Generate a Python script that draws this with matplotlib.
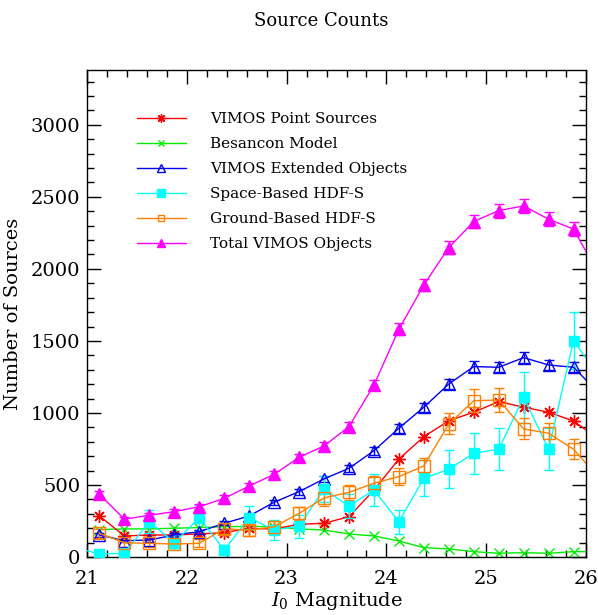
import matplotlib
matplotlib.use('Agg')
import matplotlib.pyplot as plt
from matplotlib.lines import Line2D
from matplotlib.ticker import MultipleLocator

plt.rcParams['font.family'] = ['DejaVu Serif']
plt.rcParams['mathtext.fontset'] = 'dejavuserif'

# magnitude bins (last one lies past the plot edge so the lines run off it)
mags = [21.125, 21.375, 21.625, 21.875, 22.125, 22.375, 22.625, 22.875, 23.125, 23.375,
        23.625, 23.875, 24.125, 24.375, 24.625, 24.875, 25.125, 25.375, 25.625, 25.875, 26.125]

point_src = [285, 146, 153, 153, 160, 169, 199, 194, 227, 234,
             280, 465, 680, 835, 946, 1005, 1079, 1040, 1005, 944, 820]

besancon = [190, 195, 195, 200, 204, 210, 213, 210, 195, 187,
            160, 146, 111, 65, 56, 37, 26, 30, 26, 37, 37]

extended = [153, 113, 118, 153, 176, 234, 285, 380, 454, 542,
            616, 738, 894, 1040, 1201, 1322, 1317, 1384, 1333, 1317, 1140]
extended_err = [12, 11, 11, 12, 13, 15, 17, 19, 21, 23,
                25, 27, 30, 32, 35, 36, 36, 37, 37, 36, 0]

# space-based counts start one bin earlier, off the left edge
space_mags = [20.875] + mags
space_hdf = [67, 21, 26, 245, 99, 273, 49, 273, 187, 215, 470,
             354, 465, 245, 546, 609, 720, 748, 1109, 748, 1502, 1258]
space_err = [0, 20, 20, 80, 52, 90, 32, 82, 72, 80, 89,
             85, 110, 83, 124, 133, 142, 145, 178, 145, 200, 0]

ground_hdf = [164, 99, 95, 90, 95, 195, 187, 210, 303, 410,
              449, 512, 558, 632, 924, 1085, 1090, 889, 859, 748, 554]
ground_err = [30, 28, 28, 28, 28, 35, 38, 43, 46, 55,
              52, 52, 58, 58, 73, 78, 81, 73, 72, 68, 0]

total = [435, 262, 290, 315, 349, 407, 493, 574, 692, 771,
         905, 1194, 1581, 1889, 2148, 2329, 2405, 2437, 2345, 2276, 1965]
total_err = [21, 16, 17, 18, 19, 20, 22, 24, 26, 28,
             30, 35, 40, 43, 46, 48, 49, 49, 48, 48, 0]

labels = ['VIMOS Point Sources', 'Besancon Model', 'VIMOS Extended Objects',
          'Space-Based HDF-S', 'Ground-Based HDF-S', 'Total VIMOS Objects']

fig = plt.figure(figsize=(5.98, 6.15), dpi=100)
ax = fig.add_axes([0.1455, 0.0943, 0.8345, 0.7917])

lw = 1.0
cap = 3.6
red, green, blue, cyan, orange, mag = 'red', '#00ee00', '#0000ee', 'cyan', '#ff8000', 'magenta'

ax.plot(mags, point_src, color=red, lw=lw, marker=(8, 2, 0), ms=9, mew=1.0, zorder=3)
ax.plot(mags, besancon, color=green, lw=lw, marker='x', ms=7, mew=1.0, zorder=2)
ax.errorbar(mags, extended, yerr=extended_err, color=blue, lw=lw, marker='^',
            mfc='none', ms=8, mew=1.0, capsize=cap, elinewidth=1.0, zorder=3)
ax.errorbar(space_mags, space_hdf, yerr=space_err, color=cyan, lw=lw, marker='s',
            ms=7, capsize=cap, elinewidth=1.0, zorder=3)
ax.errorbar(mags, ground_hdf, yerr=ground_err, color=orange, lw=lw, marker='s',
            mfc='none', ms=8, mew=1.0, capsize=cap, elinewidth=1.0, zorder=3)
ax.errorbar(mags, total, yerr=total_err, color=mag, lw=lw, marker='^',
            ms=9, capsize=cap, elinewidth=1.0, zorder=3)

# legend keys without error bars
handles = [
    Line2D([], [], color=red, lw=lw, marker=(8, 2, 0), ms=6),
    Line2D([], [], color=green, lw=lw, marker='x', ms=5),
    Line2D([], [], color=blue, lw=lw, marker='^', mfc='none', ms=6),
    Line2D([], [], color=cyan, lw=lw, marker='s', ms=6),
    Line2D([], [], color=orange, lw=lw, marker='s', mfc='none', ms=5),
    Line2D([], [], color=mag, lw=lw, marker='^', ms=6),
]
ax.legend(handles, labels, loc='upper left', bbox_to_anchor=(0.1, 0.913), frameon=False,
          fontsize=11, handlelength=3.2, handletextpad=1.6, labelspacing=0.72,
          borderpad=0, borderaxespad=0)

ax.set_xlim(21, 26)
ax.set_ylim(0, 3380)
ax.xaxis.set_major_locator(MultipleLocator(1))
ax.xaxis.set_minor_locator(MultipleLocator(0.2))
ax.yaxis.set_major_locator(MultipleLocator(500))
ax.yaxis.set_minor_locator(MultipleLocator(100))
ax.tick_params(which='both', direction='in', top=True, right=True, labelsize=14, width=1.0)
ax.tick_params(which='major', length=10)
ax.tick_params(axis='x', which='major', pad=9)
ax.tick_params(axis='y', which='major', pad=5)
ax.tick_params(which='minor', length=5)
for s in ax.spines.values():
    s.set_linewidth(1.0)

ax.set_xlabel('$I_0$ Magnitude', fontsize=14, labelpad=2)
ax.set_ylabel('Number of Sources', fontsize=14, labelpad=6)
fig.text(0.537, 0.966, 'Source Counts', ha='center', va='center', fontsize=13)

plt.savefig('out.png', dpi=100)
